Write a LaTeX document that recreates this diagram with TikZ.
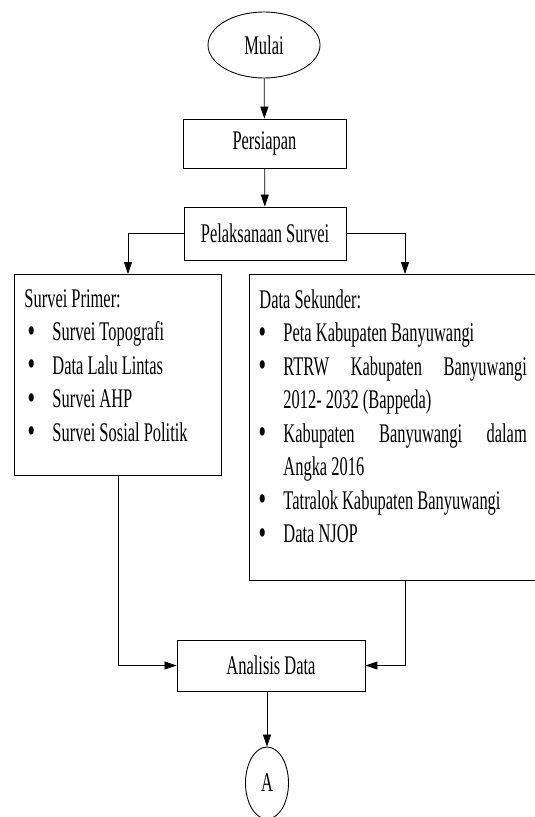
\documentclass[tikz,border=0pt]{standalone}
\usepackage{fontspec}
\setmainfont[FakeStretch = 0.61]{Liberation Serif}
\usetikzlibrary{shapes.geometric, arrows.meta}
\tikzstyle{every node} = [font = \fontsize{23}{28.6}\selectfont]
\tikzstyle{terminal} = [draw, ellipse, line width = 0.75pt, inner sep = 0pt]
\tikzstyle{process} = [draw, rectangle, line width = 0.75pt, inner sep = 0pt]
\tikzstyle{listbox} = [draw, rectangle, line width = 0.8pt, inner xsep = 0.3cm, inner ysep = 0.45cm, anchor = north west]
\tikzstyle{flow} = [line width = 0.65pt, -{Triangle[length = 0.36cm, width = 0.24cm]}]

\newcommand{\bulletline}[2]{\par\makebox[#1]{\raisebox{-0.04cm}{\scalebox{1.3}{\textbullet}}}\hspace{#2}}

\begin{document}
\begin{tikzpicture}[x = 0.03cm, y = -0.03cm]
        \useasboundingbox (0, 0) rectangle (534, 817);

        \node [terminal, minimum width = 3.36cm, minimum height = 1.98cm] (mulai) at (264, 45) {Mulai};
        \node [process, minimum width = 4.89cm, minimum height = 1.47cm] (persiapan) at (264.5, 143.5) {Persiapan};
        \node [process, minimum width = 4.86cm, minimum height = 1.59cm] (pelaksanaan) at (265, 233.5) {Pelaksanaan Survei};

        \node [listbox] (primer) at (14, 274)
        {\parbox[c][5.13cm][t]{5.61cm}{Survei Primer:
            \bulletline{0.42cm}{0.42cm}Survei Topografi
            \bulletline{0.42cm}{0.42cm}Data Lalu Lintas
            \bulletline{0.42cm}{0.42cm}Survei AHP
            \bulletline{0.42cm}{0.42cm}Survei Sosial Politik}};

        \node [listbox] (sekunder) at (249, 274)
        {\parbox[c][8.28cm][t]{8.04cm}{Data Sekunder:
            \bulletline{0.18cm}{0.54cm}Peta Kabupaten Banyuwangi
            \bulletline{0.18cm}{0.54cm}\makebox[7.3cm][s]{RTRW Kabupaten Banyuwangi}
            \par\hspace*{0.72cm}2012- 2032 (Bappeda)
            \bulletline{0.18cm}{0.54cm}\makebox[7.3cm][s]{Kabupaten Banyuwangi dalam}
            \par\hspace*{0.72cm}Angka 2016
            \bulletline{0.18cm}{0.54cm}Tatralok Kabupaten Banyuwangi
            \bulletline{0.18cm}{0.54cm}Data NJOP}};

        \node [process, minimum width = 5.64cm, minimum height = 1.53cm] (analisis) at (271, 665.5) {Analisis Data};
        \node [terminal, minimum width = 1.29cm, minimum height = 2.16cm] (a) at (267, 783) {A};

        \coordinate (primtop) at (128, 274);
        \coordinate (sektop) at (405, 274);

        \draw [flow] (mulai) -- (persiapan);
        \draw [flow] (persiapan) -- (pelaksanaan);
        \draw [flow] (pelaksanaan.west) -| (primtop);
        \draw [flow] (pelaksanaan.east) -| (sektop);
        \draw [flow] (primer.south) |- (analisis.west);
        \draw [flow] (sektop |- sekunder.south) |- (analisis.east);
        \draw [flow] (a.north |- analisis.south) -- (a.north);
    \end{tikzpicture}
\end{document}
